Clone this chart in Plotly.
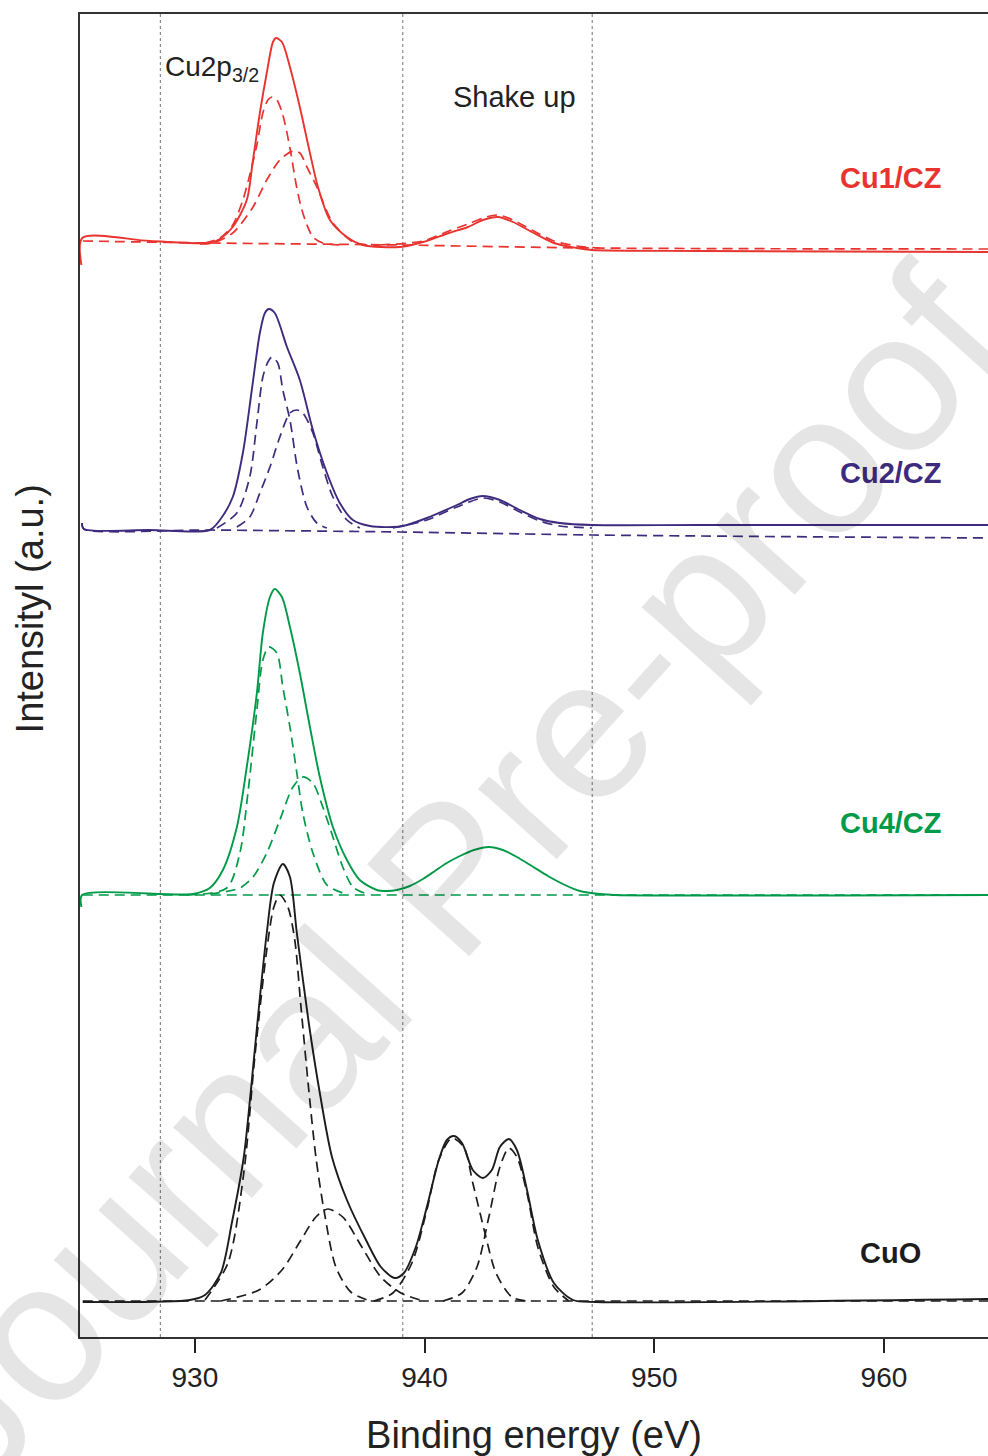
import plotly.graph_objects as go

# ---------------- data (binding energy in eV, intensity in a.u.) ----------------
# Cu1/CZ (red)
cu1_env_E = [925.06, 925.10, 928.04, 930.65, 931.09, 931.65, 932.26, 932.53, 932.83, 933.13, 933.40, 933.53,
             933.79, 934.14, 934.57, 935.01, 935.36, 935.88, 936.62, 937.31, 938.93, 939.93, 941.06, 941.89,
             942.54, 943.19, 943.85, 944.67, 945.63, 946.63, 947.29, 951.99, 964.53]
cu1_env_I = [1072, 1099, 1096, 1094, 1098, 1110, 1137, 1177, 1224, 1264, 1295, 1299,
             1295, 1270, 1230, 1184, 1150, 1117, 1100, 1092, 1090, 1095, 1104, 1110,
             1117, 1120, 1115, 1105, 1094, 1089, 1087, 1086, 1085]
cu1_c1_E = [930.44, 931.09, 931.65, 932.09, 932.39, 932.70, 932.96, 933.18, 933.35, 933.57, 933.83, 934.14,
            934.44, 934.70, 935.14, 935.57, 936.53]
cu1_c1_I = [1094, 1099, 1112, 1137, 1162, 1192, 1224, 1237, 1240, 1237, 1222, 1189,
            1149, 1124, 1100, 1094, 1092]
cu1_c2_E = [930.22, 930.78, 931.65, 932.53, 933.13, 933.70, 934.27, 934.57, 934.88, 935.31, 936.01, 936.88,
            937.49, 938.05]
cu1_c2_I = [1093, 1094, 1104, 1130, 1157, 1177, 1186, 1184, 1170, 1150, 1114, 1095,
            1092, 1091]
cu1_sat_E = [938.05, 939.93, 941.06, 941.89, 942.54, 943.19, 943.85, 944.67, 945.63, 946.63, 947.63]
cu1_sat_I = [1092, 1096, 1106, 1113, 1119, 1122, 1117, 1107, 1096, 1091, 1089]
cu1_bg_E = [925.12, 930.65, 938.93, 947.29, 964.53]
cu1_bg_I = [1096, 1094, 1092, 1089, 1088]

# Cu2/CZ (purple)
cu2_env_E = [925.08, 925.17, 928.04, 930.65, 931.09, 931.65, 932.09, 932.48, 932.83, 933.05, 933.22, 933.48,
             934.01, 934.57, 935.14, 935.75, 936.31, 936.88, 937.62, 938.62, 939.06, 940.10, 941.41, 941.97,
             942.54, 943.28, 944.15, 945.02, 945.89, 947.29, 951.99, 964.53]
cu2_env_I = [814, 808, 807, 807, 817, 840, 884, 947, 1004, 1024, 1028, 1024,
             990, 957, 907, 864, 834, 817, 811, 810, 811, 819, 832, 838,
             841, 837, 827, 818, 814, 812, 812, 812]
cu2_c1_E = [930.96, 931.83, 932.39, 932.70, 932.96, 933.18, 933.35, 933.61, 933.83, 934.14, 934.48, 934.88,
            935.31, 935.75]
cu2_c1_I = [809, 824, 860, 914, 960, 975, 980, 974, 947, 917, 867, 830,
            814, 809]
cu2_c2_E = [931.83, 932.39, 932.83, 933.27, 933.70, 934.14, 934.44, 934.70, 935.14, 935.57, 936.01, 936.62,
            937.18]
cu2_c2_I = [810, 820, 844, 870, 900, 924, 927, 924, 904, 870, 840, 817,
            809]
cu2_sat_E = [938.62, 940.10, 941.41, 942.54, 943.28, 944.15, 945.02, 945.89, 947.29]
cu2_sat_I = [809, 817, 830, 839, 835, 825, 816, 811, 809]
cu2_bg_E = [925.08, 925.17, 930.65, 938.93, 947.29, 951.99, 964.53]
cu2_bg_I = [814, 808, 807, 805, 802, 801, 799]

# Cu4/CZ (green)
cu4_env_E = [925.06, 925.09, 929.91, 930.65, 931.22, 931.83, 932.26, 932.70, 932.96, 933.27, 933.48, 933.79,
             934.14, 934.57, 935.01, 935.44, 936.01, 936.62, 937.18, 937.92, 938.36, 938.80, 939.36, 939.93,
             940.45, 940.97, 941.54, 942.15, 942.80, 943.41, 944.02, 944.67, 945.37, 946.11, 946.76, 947.63,
             948.29, 964.53]
cu4_env_I = [430, 442, 443, 449, 467, 510, 570, 644, 704, 740, 748, 740,
             710, 664, 610, 560, 510, 477, 457, 447, 446, 447, 451, 458,
             466, 474, 481, 487, 490, 487, 480, 471, 461, 452, 446, 443,
             442, 442]
cu4_c1_E = [929.65, 931.39, 931.96, 932.31, 932.70, 932.96, 933.22, 933.57, 933.83, 934.14, 934.44, 934.70,
            935.14, 935.75, 936.44]
cu4_c1_I = [442, 449, 484, 544, 627, 677, 690, 684, 650, 610, 564, 524,
            484, 452, 444]
cu4_c2_E = [930.65, 931.96, 932.53, 933.13, 933.70, 934.27, 934.70, 935.14, 935.57, 936.01, 936.44, 936.88,
            937.49]
cu4_c2_I = [443, 449, 460, 484, 517, 550, 560, 554, 530, 500, 470, 450,
            443]
cu4_bg_E = [925.12, 964.53]
cu4_bg_I = [442, 442]

# CuO (black)
cuo_env_E = [925.12, 929.78, 930.44, 931.13, 931.61, 932.13, 932.44, 932.79, 933.13, 933.44, 933.83, 934.14,
             934.44, 934.96, 935.44, 935.97, 936.62, 937.45, 938.10, 938.71, 939.10, 939.62, 940.10, 940.62,
             940.97, 941.28, 941.63, 942.10, 942.54, 942.93, 943.28, 943.67, 944.02, 944.46, 944.93, 945.63,
             946.46, 947.46, 964.53]
cuo_env_I = [35, 37, 42, 64, 114, 180, 247, 330, 404, 454, 473, 460,
             404, 314, 244, 180, 137, 97, 70, 59, 64, 90, 130, 177,
             197, 201, 194, 167, 159, 167, 190, 198, 187, 147, 97, 54,
             37, 35, 38]
cuo_c1_E = [930.44, 931.44, 932.13, 932.61, 933.13, 933.44, 933.70, 934.05, 934.35, 934.62, 934.96, 935.27,
            935.62, 936.14, 936.79, 937.62]
cuo_c1_I = [37, 74, 164, 280, 387, 430, 442, 430, 397, 330, 247, 180,
            127, 70, 45, 36]
cuo_c2_E = [931.13, 932.79, 933.79, 934.62, 935.27, 935.79, 936.44, 937.27, 938.10, 938.97, 939.97]
cuo_c2_I = [36, 47, 67, 97, 120, 128, 120, 90, 60, 44, 36]
cuo_c3_E = [937.79, 938.62, 939.45, 940.10, 940.62, 941.19, 941.71, 942.10, 942.63, 943.11, 943.80, 944.46]
cuo_c3_I = [36, 44, 74, 127, 177, 199, 190, 154, 104, 64, 40, 36]
cuo_c4_E = [940.80, 941.63, 942.28, 942.80, 943.28, 943.67, 944.02, 944.46, 944.93, 945.63, 946.28]
cuo_c4_I = [36, 44, 70, 120, 170, 189, 180, 144, 90, 50, 36]
cuo_bg_E = [925.12, 964.53]
cuo_bg_I = [36, 36]

sample_names = ["Cu1/CZ", "Cu2/CZ", "Cu4/CZ", "CuO"]
sample_label_I = [1159, 864, 514, 84]
ref_lines_eV = [928.5, 939.05, 947.3]
x_ticks = [930, 940, 950, 960]

# ---------------- styles ----------------
RED = "#e8332f"
PURPLE = "#3f2b7e"
GREEN = "#009a48"
BLACK = "#1c1c1c"
colors = [RED, PURPLE, GREEN, BLACK]
DASH = "10px,6px"

fig = go.Figure()


def add(E, I, color, dashed, width=1.7):
    fig.add_trace(go.Scatter(
        x=E, y=I, mode="lines",
        line=dict(color=color, width=width, dash=DASH if dashed else "solid",
                  shape="spline", smoothing=0.8),
        showlegend=False, hoverinfo="skip"))


# Cu1/CZ
add(cu1_bg_E, cu1_bg_I, RED, True)
add(cu1_c1_E, cu1_c1_I, RED, True)
add(cu1_c2_E, cu1_c2_I, RED, True)
add(cu1_sat_E, cu1_sat_I, RED, True)
add(cu1_env_E, cu1_env_I, RED, False, 1.9)
# Cu2/CZ
add(cu2_bg_E, cu2_bg_I, PURPLE, True)
add(cu2_c1_E, cu2_c1_I, PURPLE, True)
add(cu2_c2_E, cu2_c2_I, PURPLE, True)
add(cu2_sat_E, cu2_sat_I, PURPLE, True)
add(cu2_env_E, cu2_env_I, PURPLE, False, 1.9)
# Cu4/CZ
add(cu4_bg_E, cu4_bg_I, GREEN, True)
add(cu4_c1_E, cu4_c1_I, GREEN, True)
add(cu4_c2_E, cu4_c2_I, GREEN, True)
add(cu4_env_E, cu4_env_I, GREEN, False, 1.9)
# CuO
add(cuo_bg_E, cuo_bg_I, BLACK, True)
add(cuo_c1_E, cuo_c1_I, BLACK, True)
add(cuo_c2_E, cuo_c2_I, BLACK, True)
add(cuo_c3_E, cuo_c3_I, BLACK, True)
add(cuo_c4_E, cuo_c4_I, BLACK, True)
add(cuo_env_E, cuo_env_I, BLACK, False, 1.9)

# reference dotted lines
for xv in ref_lines_eV:
    fig.add_shape(type="line", xref="x", yref="paper", x0=xv, x1=xv, y0=0, y1=1,
                  line=dict(color="#8a8a8a", width=1.2, dash="dot"), layer="below")

FONT = "Liberation Sans, Arial, sans-serif"
ann = []
for name, yi, c in zip(sample_names, sample_label_I, colors):
    ann.append(dict(x=960.3, y=yi, xref="x", yref="y", text=f"<b>{name}</b>", showarrow=False,
                    font=dict(family=FONT, size=29, color=c), xanchor="center", yanchor="middle"))
ann.append(dict(x=928.6, y=1269, xref="x", yref="y", text="Cu2p<sub>3/2</sub>", showarrow=False,
                font=dict(family=FONT, size=28, color="#222222"), xanchor="left", yanchor="middle"))
ann.append(dict(x=943.9, y=1240, xref="x", yref="y", text="Shake up", showarrow=False,
                font=dict(family=FONT, size=29, color="#222222"), xanchor="center", yanchor="middle"))
# y-axis title
ann.append(dict(x=-0.055, y=0.55, xref="paper", yref="paper", text="Intensityl (a.u.)", showarrow=False,
                textangle=-90, font=dict(family=FONT, size=38, color="#222222"),
                xanchor="center", yanchor="middle"))
# watermark
ann.append(dict(x=0.405, y=0.348, xref="paper", yref="paper", text="Journal Pre-proof", showarrow=False,
                textangle=-48, font=dict(family=FONT, size=200, color="rgba(0,0,0,0.10)"),
                xanchor="center", yanchor="middle"))

fig.update_layout(
    width=988, height=1456,
    margin=dict(l=80, r=0, t=14, b=119),
    paper_bgcolor="white", plot_bgcolor="white",
    annotations=ann,
    xaxis=dict(range=[925.0, 964.53], tickvals=x_ticks, ticks="outside", ticklen=14, tickwidth=2,
               tickcolor="#222222", showline=True, linecolor="#333333", linewidth=2, mirror=True,
               showgrid=False, zeroline=False,
               tickfont=dict(family=FONT, size=28, color="#222222"),
               title=dict(text="Binding energy (eV)", font=dict(family=FONT, size=38, color="#222222"),
                          standoff=30)),
    yaxis=dict(range=[0, 1323], showticklabels=False, ticks="", showline=True, linecolor="#333333",
               linewidth=2, mirror=False, showgrid=False, zeroline=False),
)

fig.write_html("out.html")
